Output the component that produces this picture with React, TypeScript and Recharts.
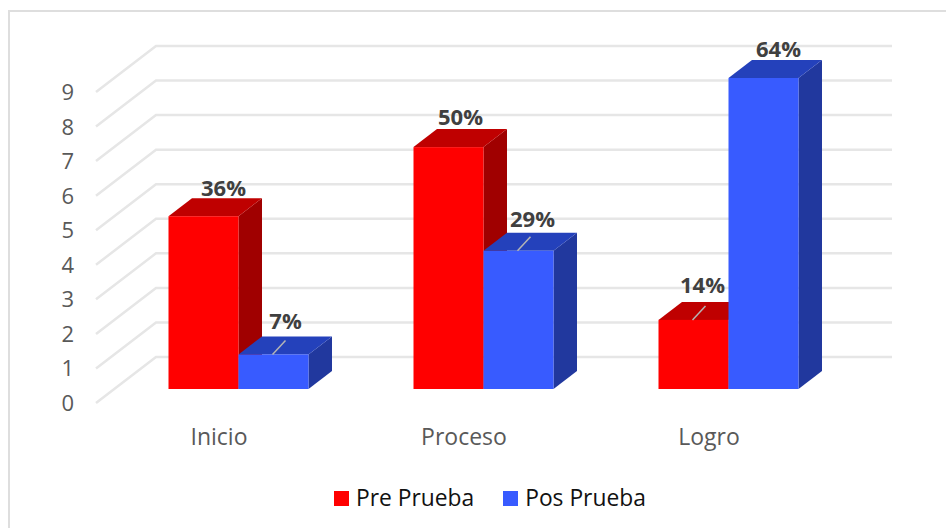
import { BarChart, Bar, XAxis, YAxis, CartesianGrid, Legend, LabelList } from "recharts";

const categories = ["Inicio", "Proceso", "Logro"];
const preValues = [5, 7, 2];
const posValues = [1, 4, 9];
const preLabels = ["36%", "50%", "14%"];
const posLabels = ["7%", "29%", "64%"];
const yTicks = [0, 1, 2, 3, 4, 5, 6, 7, 8, 9];

const data = categories.map((name, i) => ({
  name,
  pre: preValues[i],
  pos: posValues[i],
  preLabel: preLabels[i],
  posLabel: posLabels[i],
}));

// fake 3D depth of the bars
const DEPTH_X = 23.5;
const DEPTH_Y = 18;

// label nudges from the bar's top centre, [dx, dy, has leader line]
const preNudge: [number, number, boolean][] = [[20, -29, false], [12, -31, false], [9, -36, true]];
const posNudge: [number, number, boolean][] = [[12, -34, true], [14, -33, true], [15, -30, false]];

const Box3D = (side: string, top: string) => (props: any) => {
  const { x, y, width, height, fill } = props;
  const r = x + width;
  const b = y + height;
  return (
    <g>
      <polygon points={`${r},${y} ${r + DEPTH_X},${y - DEPTH_Y} ${r + DEPTH_X},${b - DEPTH_Y} ${r},${b}`} fill={side} />
      <polygon points={`${x},${y} ${x + DEPTH_X},${y - DEPTH_Y} ${r + DEPTH_X},${y - DEPTH_Y} ${r},${y}`} fill={top} />
      <rect x={x} y={y} width={width} height={height} fill={fill} />
    </g>
  );
};

const PercentLabel = (nudge: [number, number, boolean][]) => (props: any) => {
  const { x, y, width, value, index } = props;
  const [dx, dy, leader] = nudge[index];
  const cx = x + width / 2;
  return (
    <g>
      {leader && <line x1={cx - 1} y1={y} x2={cx + 12} y2={y - 14} stroke="#b5b5b5" strokeWidth={1.5} />}
      <text x={cx + dx} y={y + dy} textAnchor="middle" dominantBaseline="central" fontSize={22} fontWeight={700} fill="#404040">
        {value}
      </text>
    </g>
  );
};

const FloorAndWallLine = (props: any) => {
  const { x1, x2, y1 } = props;
  return (
    <path
      d={`M${x1 - 19.5},${y1 + 14} L${x1 + 40.5},${y1 - 32} L${x2 + 41.5},${y1 - 32}`}
      fill="none"
      stroke="#e6e6e6"
      strokeWidth={2.5}
    />
  );
};

const YTick = ({ y, payload }: any) => (
  <text x={74} y={y + 13} textAnchor="end" dominantBaseline="central" fontSize={22} fill="#595959">
    {payload.value}
  </text>
);

const XTick = ({ x, y, payload }: any) => (
  <text x={x - 19} y={y + 39} textAnchor="middle" dominantBaseline="central" fontSize={23} fill="#595959">
    {payload.value}
  </text>
);

const LegendContent = ({ payload }: any) => (
  <div style={{ display: "flex", alignItems: "center" }}>
    {(payload || []).map((item: any) => (
      <div key={item.value} style={{ display: "flex", alignItems: "center", marginRight: 29 }}>
        <span style={{ width: 15, height: 15, background: item.color, marginRight: 7 }} />
        <span style={{ fontSize: 22.8, color: "#111", lineHeight: "26px" }}>{item.value}</span>
      </div>
    ))}
  </div>
);

export default function App() {
  return (
    <div style={{ position: "absolute", left: 0, top: 0, width: 946, height: 528, overflow: "hidden", background: "#fff", fontFamily: "'Open Sans', sans-serif" }}>
      <div style={{ position: "absolute", left: 8, top: 10, right: 0, bottom: 0, borderTop: "2px solid #dedede", borderLeft: "2px solid #dedede" }} />
      <BarChart
        width={946}
        height={528}
        data={data}
        barSize={70}
        barGap={0}
        margin={{ top: 78, right: 95.5, left: 0, bottom: 0 }}
        style={{ position: "absolute", left: 0, top: 0 }}
      >
        <CartesianGrid vertical={false} horizontal={FloorAndWallLine} />
        <XAxis dataKey="name" height={113} axisLine={false} tickLine={false} tick={XTick} interval={0} />
        <YAxis width={115.5} domain={[0, 9]} ticks={yTicks} interval={0} axisLine={false} tickLine={false} tick={YTick} />
        <Legend
          content={LegendContent}
          itemSorter={null}
          wrapperStyle={{ position: "absolute", left: 334, top: 485, width: 400, bottom: "auto" }}
        />
        <Bar dataKey="pre" name="Pre Prueba" fill="#ff0000" shape={Box3D("#a00000", "#bf0000")} isAnimationActive={false}>
          <LabelList dataKey="preLabel" content={PercentLabel(preNudge)} />
        </Bar>
        <Bar dataKey="pos" name="Pos Prueba" fill="#385bff" shape={Box3D("#21389e", "#2441bb")} isAnimationActive={false}>
          <LabelList dataKey="posLabel" content={PercentLabel(posNudge)} />
        </Bar>
      </BarChart>
    </div>
  );
}
